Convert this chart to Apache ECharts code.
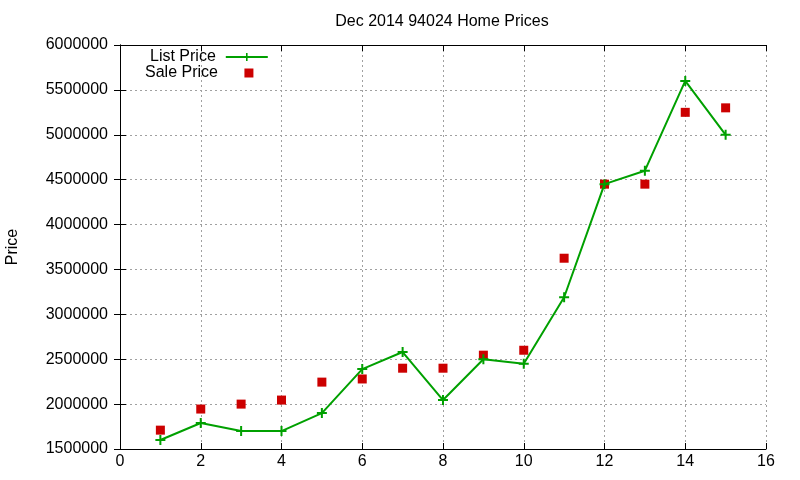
<!DOCTYPE html>
<html>
<head>
    <meta charset="UTF-8">
    <title>Dec 2014 94024 Home Prices</title>
    <style>
        html, body { margin: 0; padding: 0; background: #fff; }
        #chart-container { width: 800px; height: 480px; }
    </style>
</head>
<body>
<div id="chart-container"></div>
<script src="https://cdn.jsdelivr.net/npm/echarts@6/dist/echarts.min.js"></script>
<script>
    // data
    const months = [1, 2, 3, 4, 5, 6, 7, 8, 9, 10, 11, 12, 13, 14, 15];
    const listPrice = [1600000, 1790000, 1700000, 1700000, 1900000, 2390000, 2580000, 2045000,
        2500000, 2450000, 3190000, 4450000, 4600000, 5600000, 5000000];
    const salePrice = [1710000, 1945000, 2000000, 2045000, 2245000, 2280000, 2400000, 2400000,
        2545000, 2600000, 3625000, 4450000, 4450000, 5250000, 5300000];

    const chart = echarts.init(document.getElementById('chart-container'));
    const font = 'Liberation Sans, Arial, sans-serif';
    const plus = 'path://M4,0H6V4H10V6H6V10H4V6H0V4H4Z';
    const square = 'path://M0,0H10V10H0Z';

    const gridDash = { show: true, lineStyle: { color: '#a0a0a0', type: [2, 3], width: 1 } };
    const axisBase = {
        type: 'value',
        axisLine: { show: true, lineStyle: { color: '#000', width: 1 } },
        axisTick: { show: true, inside: true, length: 6, lineStyle: { color: '#000' } },
        axisLabel: { color: '#000', fontSize: 16, fontFamily: font, formatter: v => String(v) },
    };
    const legendText = { fontSize: 16, color: '#000', fontFamily: font, padding: [0, 5, 0, 0] };

    const option = {
        animation: false,
        backgroundColor: '#fff',
        title: {
            text: 'Dec 2014 94024 Home Prices',
            left: 437, top: 9, textAlign: 'center',
            textStyle: { fontSize: 16, fontWeight: 'normal', color: '#000', fontFamily: font }
        },
        legend: [
            {
                orient: 'vertical', left: 150, top: 49, align: 'right', padding: 0,
                itemWidth: 42, itemHeight: 10,
                textStyle: legendText,
                data: ['List Price']
            },
            {
                orient: 'vertical', left: 145, top: 65, align: 'right', padding: 0,
                itemWidth: 42, itemHeight: 9,
                textStyle: legendText,
                data: [{ name: 'Sale Price', icon: square, itemStyle: { color: '#cc0000', opacity: 1 } }]
            }
        ],
        grid: { left: 120, right: 34, top: 45, bottom: 31, outerBoundsMode: 'none', containLabel: false },
        xAxis: [
            Object.assign({}, axisBase, {
                min: 0, max: 16, interval: 2, position: 'bottom',
                splitLine: gridDash,
                axisLabel: Object.assign({}, axisBase.axisLabel, { margin: 5 })
            }),
            Object.assign({}, axisBase, {
                min: 0, max: 16, interval: 2, position: 'top',
                splitLine: { show: false }, axisLabel: { show: false }
            })
        ],
        yAxis: [
            Object.assign({}, axisBase, {
                min: 1500000, max: 6000000, interval: 500000, position: 'left',
                splitLine: gridDash,
                name: 'Price', nameLocation: 'middle', nameGap: 99, nameRotate: 90,
                nameTextStyle: { fontSize: 16, color: '#000', fontFamily: font },
                axisLabel: Object.assign({}, axisBase.axisLabel, { margin: 12 })
            }),
            Object.assign({}, axisBase, {
                min: 1500000, max: 6000000, interval: 500000, position: 'right',
                splitLine: { show: false }, axisLabel: { show: false }
            })
        ],
        series: [
            {
                name: 'List Price',
                type: 'line',
                data: months.map((m, i) => [m, listPrice[i]]),
                symbol: plus,
                symbolSize: 10,
                showAllSymbol: true,
                lineStyle: { color: '#00a000', width: 2 },
                itemStyle: { color: '#00a000' },
                z: 3
            },
            {
                name: 'Sale Price',
                type: 'scatter',
                data: months.map((m, i) => [m, salePrice[i]]),
                symbol: 'rect',
                symbolSize: 9,
                itemStyle: { color: '#cc0000', opacity: 1 },
                z: 2
            }
        ]
    };

    chart.setOption(option);
</script>
</body>
</html>
